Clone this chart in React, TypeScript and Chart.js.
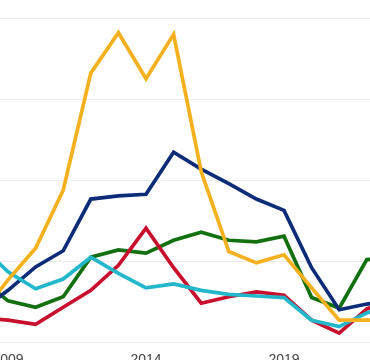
import React, { useEffect, useRef } from "react";
import { Chart, registerables } from "chart.js";

Chart.register(...registerables);

const years = [2008, 2009, 2010, 2011, 2012, 2013, 2014, 2015, 2016, 2017, 2018, 2019, 2020, 2021, 2022, 2023];
const xTickYears = [2009, 2014, 2019];
const yGridValues = [0, 10, 20, 30, 40];

const yellowSeries = [3.3, 7.7, 11.6, 18.8, 33.3, 38.3, 32.6, 38.1, 21.1, 11.2, 9.8, 10.8, 6.7, 2.7, 2.7, 2.7];
const cyanSeries = [12.0, 8.7, 6.6, 7.8, 10.5, 8.5, 6.7, 7.2, 6.4, 5.9, 5.7, 5.5, 2.7, 1.9, 3.6, 4.6];
const redSeries = [3.0, 2.7, 2.2, 4.3, 6.4, 9.5, 14.1, 9.2, 4.8, 5.6, 6.2, 5.8, 2.7, 1.1, 4.1, 5.2];
const navySeries = [3.8, 6.4, 9.3, 11.3, 17.7, 18.1, 18.3, 23.5, 21.4, 19.6, 17.7, 16.3, 9.2, 4.0, 4.7, 5.2];
const greenSeries = [7.9, 5.1, 4.3, 5.6, 10.5, 11.4, 11.0, 12.6, 13.6, 12.6, 12.4, 13.1, 5.5, 4.2, 10.2, 10.4];

const toPoints = (vals: number[]) => years.map((yr, i) => ({ x: yr, y: vals[i] }));

export default function App() {
  const ref = useRef<HTMLCanvasElement | null>(null);

  useEffect(() => {
    if (!ref.current) return;
    const mk = (data: number[], color: string) => ({
      data: toPoints(data),
      borderColor: color,
      backgroundColor: color,
      borderWidth: 3.7,
      pointRadius: 0,
      tension: 0,
      fill: false,
    });
    const chart = new Chart(ref.current, {
      type: "line",
      data: {
        datasets: [
          mk(yellowSeries, "#F5B01E"),
          mk(cyanSeries, "#22B7CA"),
          mk(redSeries, "#C8102E"),
          mk(navySeries, "#0C2C78"),
          mk(greenSeries, "#13700F"),
        ],
      },
      options: {
        animation: false,
        responsive: false,
        layout: { padding: 0 },
        plugins: { legend: { display: false }, tooltip: { enabled: false }, title: { display: false } },
        scales: {
          x: {
            type: "linear",
            min: 2006.536,
            max: 2024.652,
            grid: { display: false, drawTicks: false },
            border: { display: false },
            afterBuildTicks: (s: any) => {
              s.ticks = xTickYears.map((v) => ({ value: v }));
            },
            afterFit: (s: any) => {
              s.height = 40;
            },
            ticks: {
              padding: 10,
              color: "#444",
              font: { family: "'Liberation Sans', Arial, sans-serif", size: 14 },
              callback: (v: any) => String(v),
              autoSkip: false,
              maxRotation: 0,
            },
          },
          y: {
            type: "linear",
            min: 0,
            max: 49.783,
            grid: { color: "#ececec", lineWidth: 1, drawTicks: false },
            border: { display: false },
            afterBuildTicks: (s: any) => {
              s.ticks = yGridValues.map((v) => ({ value: v }));
            },
            afterFit: (s: any) => {
              s.width = 0;
            },
            ticks: { display: false },
          },
        },
      },
    } as any);
    return () => chart.destroy();
  }, []);

  return (
    <div style={{ position: "fixed", left: -60, top: -60, width: 500, height: 442, background: "#fff" }}>
      <canvas ref={ref} width={500} height={442} style={{ display: "block" }} />
    </div>
  );
}
